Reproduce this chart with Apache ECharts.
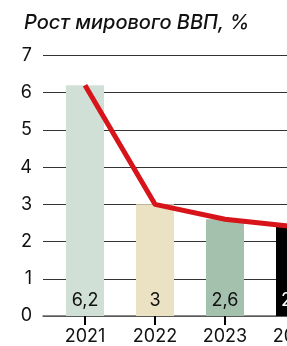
<!DOCTYPE html>
<html>
<head>
<meta charset="utf-8">
<script src="https://cdn.jsdelivr.net/npm/echarts@6/dist/echarts.min.js"></script>
<style>
  html, body { margin: 0; padding: 0; overflow: hidden; background: #fff; }
  #chart { width: 400px; height: 346px; }
</style>
</head>
<body>
<div id="chart"></div>
<script>
const years = [2021, 2022, 2023, 2024];
const growth = [6.2, 3, 2.6, 2.4];
const barColors = ["#d1e0d6", "#ebe2c3", "#a3c1ad", "#000000"];
const labelColors = ["#111", "#111", "#111", "#fff"];
const yTicks = [0, 1, 2, 3, 4, 5, 6, 7];

const chart = echarts.init(document.getElementById("chart"));

const option = {
  animation: false,
  title: {
    text: "Рост мирового ВВП, %",
    left: 24,
    top: 13,
    padding: 0,
    textStyle: {
      fontFamily: "Inter",
      fontStyle: "italic",
      fontWeight: 500,
      fontSize: 20,
      color: "#111",
    },
  },
  grid: {
    left: 43,
    top: 55.5,
    width: 280,
    height: 261.5,
    containLabel: false,
  },
  xAxis: {
    type: "value",
    min: 2020.4,
    max: 2024.4,
    splitLine: { show: false },
    axisLine: { show: true, lineStyle: { color: "#666", width: 1.5 } },
    axisTick: {
      show: true,
      customValues: years,
      length: 9,
      lineStyle: { color: "#000", width: 2 },
    },
    axisLabel: {
      customValues: years,
      formatter: (v) => String(v),
      fontFamily: "Inter",
      fontSize: 18,
      color: "#111",
      margin: 12,
    },
  },
  yAxis: {
    type: "value",
    min: yTicks[0],
    max: yTicks[yTicks.length - 1],
    interval: 1,
    axisLine: { show: false },
    axisTick: { show: false },
    axisLabel: {
      fontFamily: "Inter",
      fontSize: 18,
      color: "#111",
      margin: 11,
    },
    splitLine: { lineStyle: { color: "#333", width: 1 } },
  },
  series: [
    {
      type: "bar",
      barWidth: 38,
      clip: false,
      data: years.map((y, i) => ({
        value: [y, growth[i]],
        itemStyle: { color: barColors[i] },
        label: { color: labelColors[i] },
      })),
      label: {
        show: true,
        position: "insideBottom",
        distance: 6,
        fontFamily: "Inter",
        fontSize: 18,
        formatter: (p) => String(p.value[1]).replace(".", ","),
      },
      z: 2,
    },
    {
      type: "line",
      data: years.map((y, i) => [y, growth[i]]),
      showSymbol: false,
      symbol: "none",
      lineStyle: { color: "#d7141a", width: 5, join: "round" },
      z: 3,
    },
  ],
};

chart.setOption(option);
</script>
</body>
</html>
